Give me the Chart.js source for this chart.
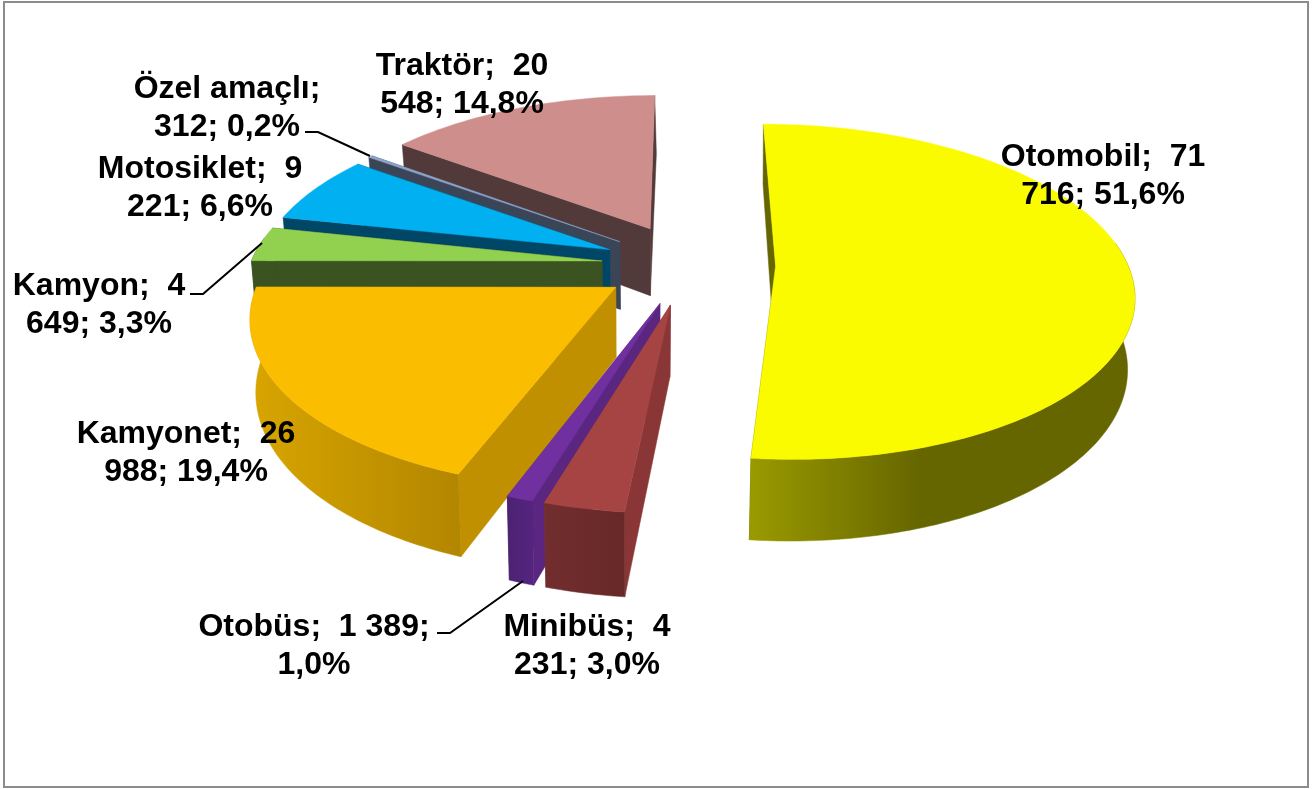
<!DOCTYPE html>
<html><head><meta charset="utf-8">
<style>html,body{margin:0;padding:0;background:#fff}canvas{display:block}</style>
<script src="https://cdn.jsdelivr.net/npm/chart.js@4/dist/chart.umd.min.js"></script>
</head><body><canvas id="c" width="1314" height="789"></canvas>
<script>
const categories = ['Otomobil','Minibüs','Otobüs','Kamyonet','Kamyon','Motosiklet','Özel amaçlı','Traktör'];
const values = [71716,4231,1389,26988,4649,9221,312,20548];
const labelLines = [
  ['Otomobil;  71','716; 51,6%'],['Minibüs;  4','231; 3,0%'],['Otobüs;  1 389;','1,0%'],
  ['Kamyonet;  26','988; 19,4%'],['Kamyon;  4','649; 3,3%'],['Motosiklet;  9','221; 6,6%'],
  ['Özel amaçlı;','312; 0,2%'],['Traktör;  20','548; 14,8%']];
const faceColors = ['#FBFB00','#A64444','#7030A0','#FBBD00','#92D050','#00B0F0','#8EA3C8','#CE8F8C'];
const radialColors = ['#666600','#8A3636','#5A2680','#C09000','#3B5221','#004666','#3B4558','#533A3A'];
const outerStops = [
  [[0,'#9A9A00'],[0.44,'#666600'],[1,'#666600']],
  [[0,'#722E2E'],[1,'#682828']],
  [[0,'#4C2272'],[1,'#552480']],
  [[0,'#D8A500'],[1,'#B38600']],
  [[0,'#3B5221'],[1,'#3B5221']],
  [[0,'#004666'],[1,'#004666']],
  [[0,'#3B4558'],[1,'#3B4558']],
  [[0,'#533A3A'],[1,'#533A3A']]];
const explosion = [0.26,0.235,0.235,0.235,0.235,0.235,0.235,0.235];
const nudge = [[0,-1],[3,1],[3,1],[1,0],[0,0],[0,0],[1,-1],[2,-3]];
const paintOrder = [7,6,5,4,3,2,1,0];
const labelCenters = [[1103,157],[587,627],[314,627],[186,434],[99,286],[200,169],[227,89],[462,66]];
const leaders = [[[305,132],[318,132],[370,156]],[[190,294],[203,294],[262,243]],[[437,633],[450,633],[523,581]]];
const view = {x0:684,y0:265,a:352,c:163,p:0.153,xc:640,shrink:0.985,h:69,backLean:1.5};

function project(u,v,low,d){
  const w = 1 - view.p*v;
  let x = view.x0 + view.a*u/w, y = view.y0 + view.c*v/w;
  if(low){ x = view.xc + (x-view.xc)*view.shrink - view.backLean*Math.min(v,0); y += view.h/w; }
  return [x+d[0],y+d[1]];
}
const pie3d = {
  id:'pie3d',
  beforeDatasetsDraw(chart){
    const ctx = chart.ctx, arcs = chart.getDatasetMeta(0).data;
    paintOrder.forEach(i=>{
      const arc = arcs[i], s = arc.startAngle, e = arc.endAngle, m=(s+e)/2, d=nudge[i];
      const ou = explosion[i]*Math.cos(m), ov = explosion[i]*Math.sin(m);
      const pt=(t,low)=>project(ou+Math.cos(t),ov+Math.sin(t),low,d);
      const A=project(ou,ov,false,d), B=project(ou,ov,true,d);
      const poly=(pts,fill)=>{ctx.beginPath();pts.forEach((p,k)=>k?ctx.lineTo(p[0],p[1]):ctx.moveTo(p[0],p[1]));ctx.closePath();ctx.fillStyle=fill;ctx.fill();ctx.strokeStyle=fill;ctx.lineWidth=0.5;ctx.stroke();};
      poly([A,pt(s,false),pt(s,true),B],radialColors[i]);
      poly([A,pt(e,false),pt(e,true),B],radialColors[i]);
      const n=Math.max(2,Math.ceil((e-s)*180/Math.PI));
      const top=[],low=[],stripTop=[],stripLow=[];
      for(let k=0;k<=n;k++){
        const t=s+(e-s)*k/n, a=pt(t,false), b=pt(t,true);
        top.push(a);low.push(b);
        if(Math.sin(t)>-0.15){stripTop.push(a);stripLow.push(b);}
      }
      if(stripTop.length>1){
        const xs=stripTop.concat(stripLow).map(p=>p[0]);
        const x1=Math.min(...xs), x2=Math.max(...xs);
        const g=ctx.createLinearGradient(x1,0,x2,0);
        outerStops[i].forEach(st=>g.addColorStop(st[0],st[1]));
        poly(stripTop.concat(stripLow.slice().reverse()),g);
      }
      poly([A].concat(top),arc.options.backgroundColor);
    });
    ctx.strokeStyle='#000';ctx.lineWidth=2;
    leaders.forEach(l=>{ctx.beginPath();l.forEach((p,k)=>k?ctx.lineTo(p[0],p[1]):ctx.moveTo(p[0],p[1]));ctx.stroke();});
    ctx.fillStyle='#000';ctx.font='bold 32px "Liberation Sans", Arial, sans-serif';ctx.textAlign='center';ctx.textBaseline='middle';
    labelLines.forEach((ls,i)=>ls.forEach((t,k)=>ctx.fillText(t,labelCenters[i][0],labelCenters[i][1]+k*38)));
    ctx.strokeStyle='#8C8C8C';ctx.lineWidth=2;ctx.strokeRect(4,2,1304,785);
    return false;
  }
};
new Chart(document.getElementById('c'),{
  type:'pie',
  data:{labels:categories,datasets:[{data:values,backgroundColor:faceColors,borderWidth:0}]},
  options:{responsive:false,animation:false,plugins:{legend:{display:false},tooltip:{enabled:false}}},
  plugins:[pie3d]
});
</script></body></html>
